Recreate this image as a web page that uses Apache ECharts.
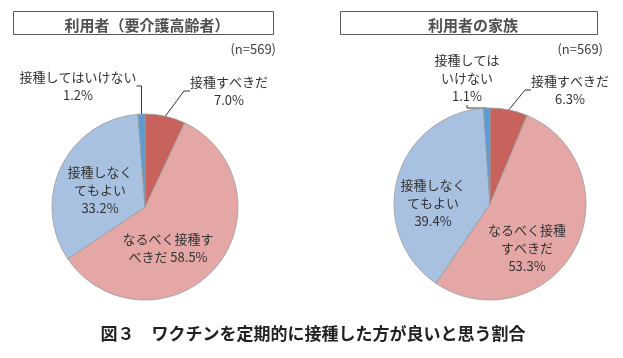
<!DOCTYPE html>
<html><head><meta charset="utf-8">
<script src="https://cdn.jsdelivr.net/npm/echarts@6/dist/echarts.min.js"></script>
<style>html,body{margin:0;padding:0;background:#fff}#c{width:623px;height:358px}</style>
</head><body><div id="c"></div>
<script>
const categories = ['接種すべきだ', 'なるべく接種すべきだ', '接種しなくてもよい', '接種してはいけない'];
const userValues = [7.0, 58.5, 33.2, 1.2];
const familyValues = [6.3, 53.3, 39.4, 1.1];
const userLabelNames = ['接種すべきだ\n', 'なるべく接種す\nべきだ ', '接種しなく\nてもよい\n', '接種してはいけない\n'];
const familyLabelNames = ['接種すべきだ\n', 'なるべく接種\nすべきだ\n', '接種しなく\nてもよい\n', '接種しては\nいけない\n'];
const chartTitles = ['利用者（要介護高齢者）', '利用者の家族'];
const sampleNote = '(n=569)';
const caption = '図３　ワクチンを定期的に接種した方が良いと思う割合';

const colors = ['#C8625D', '#E4A7A6', '#A8C1E1', '#5B9BD5'];
const FONT = '"Noto Sans CJK JP", sans-serif';
const userLabelPos = [[229, 91], [168, 248], [100, 190], [78, 86]];
const familyLabelPos = [[570, 90], [527, 248], [433, 203], [467, 78]];

function makeSeries(values, names, center, radius, pos) {
  return {
    type: 'pie', center: center, radius: radius, startAngle: 90, clockwise: true,
    data: values.map((v, i) => ({
      name: categories[i], value: v,
      itemStyle: { color: colors[i] },
      label: { position: (i === 0 || i === 3) ? 'outside' : 'inside' },
      labelLine: { show: i === 0 || i === 3 }
    })),
    itemStyle: { borderColor: '#9a9a9a', borderWidth: 0.8 },
    label: {
      formatter: p => names[p.dataIndex] + values[p.dataIndex].toFixed(1) + '%',
      fontFamily: FONT, fontSize: 13, color: '#333', lineHeight: 18, align: 'center'
    },
    labelLine: { lineStyle: { color: '#333', width: 1 }, length: 8, length2: 6 },
    labelLayout: p => ({ x: pos[p.dataIndex][0], y: pos[p.dataIndex][1], align: 'center', verticalAlign: 'middle' }),
    emphasis: { disabled: true }, animation: false
  };
}

const chart = echarts.init(document.getElementById('c'), null, { renderer: 'canvas' });
chart.setOption({
  animation: false,
  title: [
    { text: chartTitles[0], left: 142, top: 13, textAlign: 'center', textStyle: { fontFamily: FONT, fontSize: 15, fontWeight: 'bold', color: '#505050' } },
    { text: chartTitles[1], left: 468, top: 13, textAlign: 'center', textStyle: { fontFamily: FONT, fontSize: 15, fontWeight: 'bold', color: '#505050' } },
    { text: sampleNote, left: 271, top: 38, textAlign: 'right', textStyle: { fontFamily: FONT, fontSize: 13, fontWeight: 'normal', color: '#404040' } },
    { text: sampleNote, left: 598, top: 38, textAlign: 'right', textStyle: { fontFamily: FONT, fontSize: 13, fontWeight: 'normal', color: '#404040' } },
    { text: caption, left: 308, top: 320, textAlign: 'center', textStyle: { fontFamily: FONT, fontSize: 17, fontWeight: 'bold', color: '#222' } }
  ],
  graphic: [
    { type: 'rect', shape: { x: 13.5, y: 11.5, width: 260, height: 23 }, style: { fill: 'none', stroke: '#595959', lineWidth: 1 } },
    { type: 'rect', shape: { x: 340.5, y: 11.5, width: 257, height: 23 }, style: { fill: 'none', stroke: '#595959', lineWidth: 1 } }
  ],
  series: [
    makeSeries(userValues, userLabelNames, [145, 207], 93, userLabelPos),
    makeSeries(familyValues, familyLabelNames, [490, 204], 96, familyLabelPos)
  ]
});
</script></body></html>
